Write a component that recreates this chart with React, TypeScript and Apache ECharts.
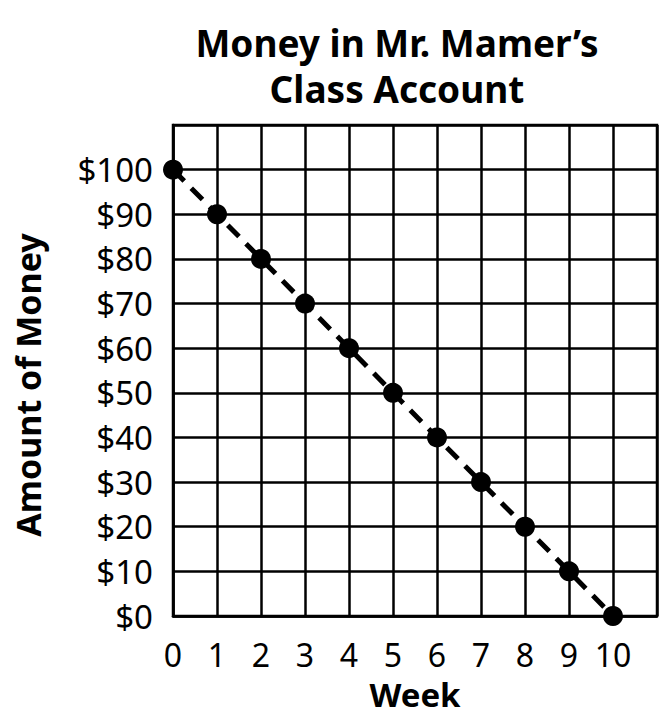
import React, { useEffect, useRef } from "react";
import * as echarts from "echarts";

const weeks = [0, 1, 2, 3, 4, 5, 6, 7, 8, 9, 10];
const money = [100, 90, 80, 70, 60, 50, 40, 30, 20, 10, 0];
const titleLines = ["Money in Mr. Mamer\u2019s", "Class Account"];
const xName = "Week";
const yName = "Amount of Money";

export default function App() {
  const ref = useRef<HTMLDivElement>(null);
  useEffect(() => {
    if (!ref.current) return;
    const chart = echarts.init(ref.current, undefined, { renderer: "svg" });
    const font = "'Noto Sans', 'Open Sans', sans-serif";
    chart.setOption({
      animation: false,
      backgroundColor: "#ffffff",
      title: {
        text: titleLines.join("\n"),
        left: 392,
        top: 14,
        textAlign: "center",
        textStyle: {
          fontFamily: font,
          fontSize: 37,
          fontWeight: "bold",
          color: "#000",
          lineHeight: 46,
        },
      },
      graphic: [
        {
          type: "text",
          x: 28,
          y: 385,
          rotation: Math.PI / 2,
          style: {
            text: yName,
            fontFamily: font,
            fontSize: 34,
            fontWeight: "bold",
            fill: "#000",
            textAlign: "center",
            textVerticalAlign: "middle",
          },
        },
      ],
      grid: {
        left: 173,
        right: 3,
        top: 125,
        bottom: 104,
        show: true,
        borderColor: "#000",
        borderWidth: 2.5,
        outerBoundsMode: "none",
        containLabel: false,
      },
      xAxis: {
        type: "value",
        min: 0,
        max: 11,
        interval: 1,
        name: xName,
        nameLocation: "middle",
        nameGap: 62,
        nameTextStyle: { fontFamily: font, fontSize: 33, fontWeight: "bold", color: "#000" },
        axisLine: { show: true, lineStyle: { color: "#000", width: 2.5 } },
        axisTick: { show: false },
        splitLine: { show: true, lineStyle: { color: "#000", width: 2.5 } },
        axisLabel: {
          fontFamily: font,
          fontSize: 32,
          color: "#000",
          margin: 22,
          formatter: (v: number) => (weeks.includes(v) ? String(v) : ""),
        },
      },
      yAxis: {
        type: "value",
        min: 0,
        max: 110,
        interval: 10,
        axisLine: { show: true, lineStyle: { color: "#000", width: 2.5 } },
        axisTick: { show: false },
        splitLine: { show: true, lineStyle: { color: "#000", width: 2.5 } },
        axisLabel: {
          fontFamily: font,
          fontSize: 33,
          color: "#000",
          margin: 20,
          formatter: (v: number) => (v <= 100 ? "$" + v : ""),
        },
      },
      series: [
        {
          type: "line",
          data: weeks.map((w, i) => [w, money[i]]),
          symbol: "circle",
          symbolSize: 20,
          itemStyle: { color: "#000" },
          lineStyle: { color: "#000", width: 5, type: [16, 10] },
        },
      ],
    });
    return () => chart.dispose();
  }, []);
  return (
    <div
      ref={ref}
      style={{ position: "fixed", left: 0, top: 0, width: 660, height: 720, background: "#fff" }}
    />
  );
}
